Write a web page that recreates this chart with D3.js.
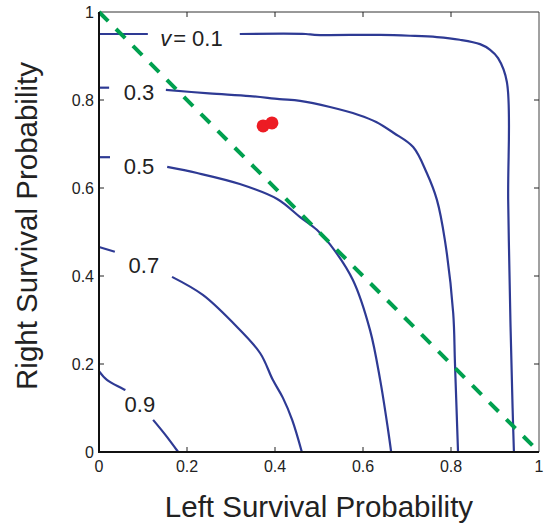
<!DOCTYPE html>
<html>
<head>
<meta charset="utf-8">
<script src="https://cdn.jsdelivr.net/npm/d3@7"></script>
<style>
  body { margin: 0; background: #fff; }
  svg { font-family: "Liberation Sans", Arial, Helvetica, sans-serif; }
</style>
</head>
<body>
<svg width="548" height="527"></svg>
<script>
// contour segments (x = left survival, y = right survival), gaps left for labels
const contour01 = [
  [[0, 0.95], [0.111, 0.95]],
  [[0.32, 0.95], [0.47, 0.95], [0.49, 0.948], [0.639, 0.948], [0.707, 0.946], [0.768, 0.943],
   [0.82, 0.937], [0.866, 0.927], [0.889, 0.914], [0.907, 0.895], [0.927, 0.841],
   [0.93, 0.57], [0.935, 0.3], [0.94, 0.1], [0.943, 0]]
];
const contour03 = [
  [[0, 0.828], [0.023, 0.828]],
  [[0.152, 0.823], [0.25, 0.815], [0.343, 0.809], [0.41, 0.802], [0.457, 0.798], [0.525, 0.784],
   [0.59, 0.766], [0.63, 0.75], [0.67, 0.725], [0.714, 0.693], [0.745, 0.634], [0.768, 0.573],
   [0.786, 0.482], [0.805, 0.316], [0.809, 0.202], [0.816, 0]]
];
const contour05 = [
  [[0, 0.67], [0.025, 0.67]],
  [[0.155, 0.648], [0.223, 0.634], [0.32, 0.609], [0.405, 0.575], [0.457, 0.534], [0.495, 0.505],
   [0.525, 0.472], [0.577, 0.391], [0.616, 0.277], [0.639, 0.164], [0.657, 0.05], [0.664, 0]]
];
const contour07 = [
  [[0, 0.466], [0.036, 0.455]],
  [[0.166, 0.398], [0.236, 0.357], [0.305, 0.293], [0.366, 0.225], [0.395, 0.164],
   [0.418, 0.123], [0.439, 0.073], [0.461, 0]]
];
const contour09 = [
  [[0, 0.184], [0.018, 0.164], [0.06, 0.141]],
  [[0.123, 0.073], [0.15, 0.04], [0.18, 0]]
];
const contours = [contour01, contour03, contour05, contour07, contour09];

// contour label text and position
const labelText = ["0.3", "0.5", "0.7", "0.9"];
const labelPos = [[0.091, 0.818], [0.091, 0.65], [0.102, 0.425], [0.093, 0.107]];
const label01Pos = [0.21, 0.94];

// observed points
const points = [[0.373, 0.741], [0.393, 0.748]];

// chance line
const diagonal = [[0, 1], [1, 0]];

const ticks = [0, 0.2, 0.4, 0.6, 0.8, 1];
const tickLabels = ["0", "0.2", "0.4", "0.6", "0.8", "1"];

const svg = d3.select("svg");
const margin = {left: 99, top: 12, right: 9, bottom: 75};
const w = 440, h = 440;

const x = d3.scaleLinear().domain([0, 1]).range([margin.left, margin.left + w]);
const y = d3.scaleLinear().domain([0, 1]).range([margin.top + h, margin.top]);

const line = d3.line().x(d => x(d[0])).y(d => y(d[1]));
const smooth = d3.line().x(d => x(d[0])).y(d => y(d[1])).curve(d3.curveCatmullRom.alpha(0.5));

// frame: top/right thin, left/bottom heavier
svg.append("line").attr("x1", x(0)).attr("x2", x(1)).attr("y1", y(1)).attr("y2", y(1))
  .attr("stroke", "#333").attr("stroke-width", 1);
svg.append("line").attr("x1", x(1)).attr("x2", x(1)).attr("y1", y(0)).attr("y2", y(1))
  .attr("stroke", "#444").attr("stroke-width", 1);

// inward ticks on all four sides
const tickLen = 5;
const inner = ticks.slice(1, -1);
svg.append("g").selectAll("line").data(inner).enter().append("line")
  .attr("x1", d => x(d)).attr("x2", d => x(d))
  .attr("y1", y(0)).attr("y2", y(0) - tickLen)
  .attr("stroke", "#222").attr("stroke-width", 1);
svg.append("g").selectAll("line").data(inner).enter().append("line")
  .attr("x1", d => x(d)).attr("x2", d => x(d))
  .attr("y1", y(1)).attr("y2", y(1) + tickLen)
  .attr("stroke", "#222").attr("stroke-width", 1);
svg.append("g").selectAll("line").data(inner).enter().append("line")
  .attr("x1", x(0)).attr("x2", x(0) + tickLen)
  .attr("y1", d => y(d)).attr("y2", d => y(d))
  .attr("stroke", "#222").attr("stroke-width", 1);
svg.append("g").selectAll("line").data(inner).enter().append("line")
  .attr("x1", x(1)).attr("x2", x(1) - tickLen)
  .attr("y1", d => y(d)).attr("y2", d => y(d))
  .attr("stroke", "#222").attr("stroke-width", 1);

// contours
svg.append("g").selectAll("path")
  .data(contours.flat())
  .enter().append("path")
  .attr("d", smooth)
  .attr("fill", "none")
  .attr("stroke", "#2e3a94")
  .attr("stroke-width", 2.2);

// dashed diagonal
svg.append("path")
  .attr("d", line(diagonal))
  .attr("fill", "none")
  .attr("stroke", "#00a04f")
  .attr("stroke-width", 4)
  .attr("stroke-dasharray", "13,11");

// red points
svg.append("g").selectAll("circle").data(points).enter().append("circle")
  .attr("cx", d => x(d[0])).attr("cy", d => y(d[1]))
  .attr("r", 6.5)
  .attr("fill", "#ed1c24");

// left / bottom axis lines
svg.append("line").attr("x1", x(0)).attr("x2", x(0)).attr("y1", y(0) + 1).attr("y2", y(1))
  .attr("stroke", "#111").attr("stroke-width", 2);
svg.append("line").attr("x1", x(0)).attr("x2", x(1)).attr("y1", y(0)).attr("y2", y(0))
  .attr("stroke", "#111").attr("stroke-width", 2);

// contour labels
svg.append("g").selectAll("text").data(labelText).enter().append("text")
  .attr("x", (d, i) => x(labelPos[i][0]))
  .attr("y", (d, i) => y(labelPos[i][1]))
  .attr("text-anchor", "middle")
  .attr("dominant-baseline", "central")
  .attr("font-size", 22)
  .attr("fill", "#222")
  .text(d => d);

const lab01 = svg.append("text")
  .attr("x", x(label01Pos[0]))
  .attr("y", y(label01Pos[1]))
  .attr("text-anchor", "middle")
  .attr("dominant-baseline", "central")
  .attr("font-size", 22)
  .attr("fill", "#222");
lab01.append("tspan").attr("font-style", "italic").text("v");
lab01.append("tspan").attr("dx", 2).text("= 0.1");

// tick labels
svg.append("g").selectAll("text").data(ticks).enter().append("text")
  .attr("x", d => x(d))
  .attr("y", y(0) + 20)
  .attr("text-anchor", "middle")
  .attr("font-size", 16)
  .attr("fill", "#222")
  .text((d, i) => tickLabels[i]);
svg.append("g").selectAll("text").data(ticks).enter().append("text")
  .attr("x", x(0) - 5)
  .attr("y", d => y(d))
  .attr("text-anchor", "end")
  .attr("dominant-baseline", "central")
  .attr("font-size", 16)
  .attr("fill", "#222")
  .text((d, i) => tickLabels[i]);

// axis titles
svg.append("text")
  .attr("x", x(0.5))
  .attr("y", 517)
  .attr("text-anchor", "middle")
  .attr("font-size", 29.5)
  .attr("fill", "#222")
  .text("Left Survival Probability");
svg.append("text")
  .attr("transform", `translate(37, ${226}) rotate(-90)`)
  .attr("text-anchor", "middle")
  .attr("font-size", 29.5)
  .attr("fill", "#222")
  .text("Right Survival Probability");
</script>
</body>
</html>
